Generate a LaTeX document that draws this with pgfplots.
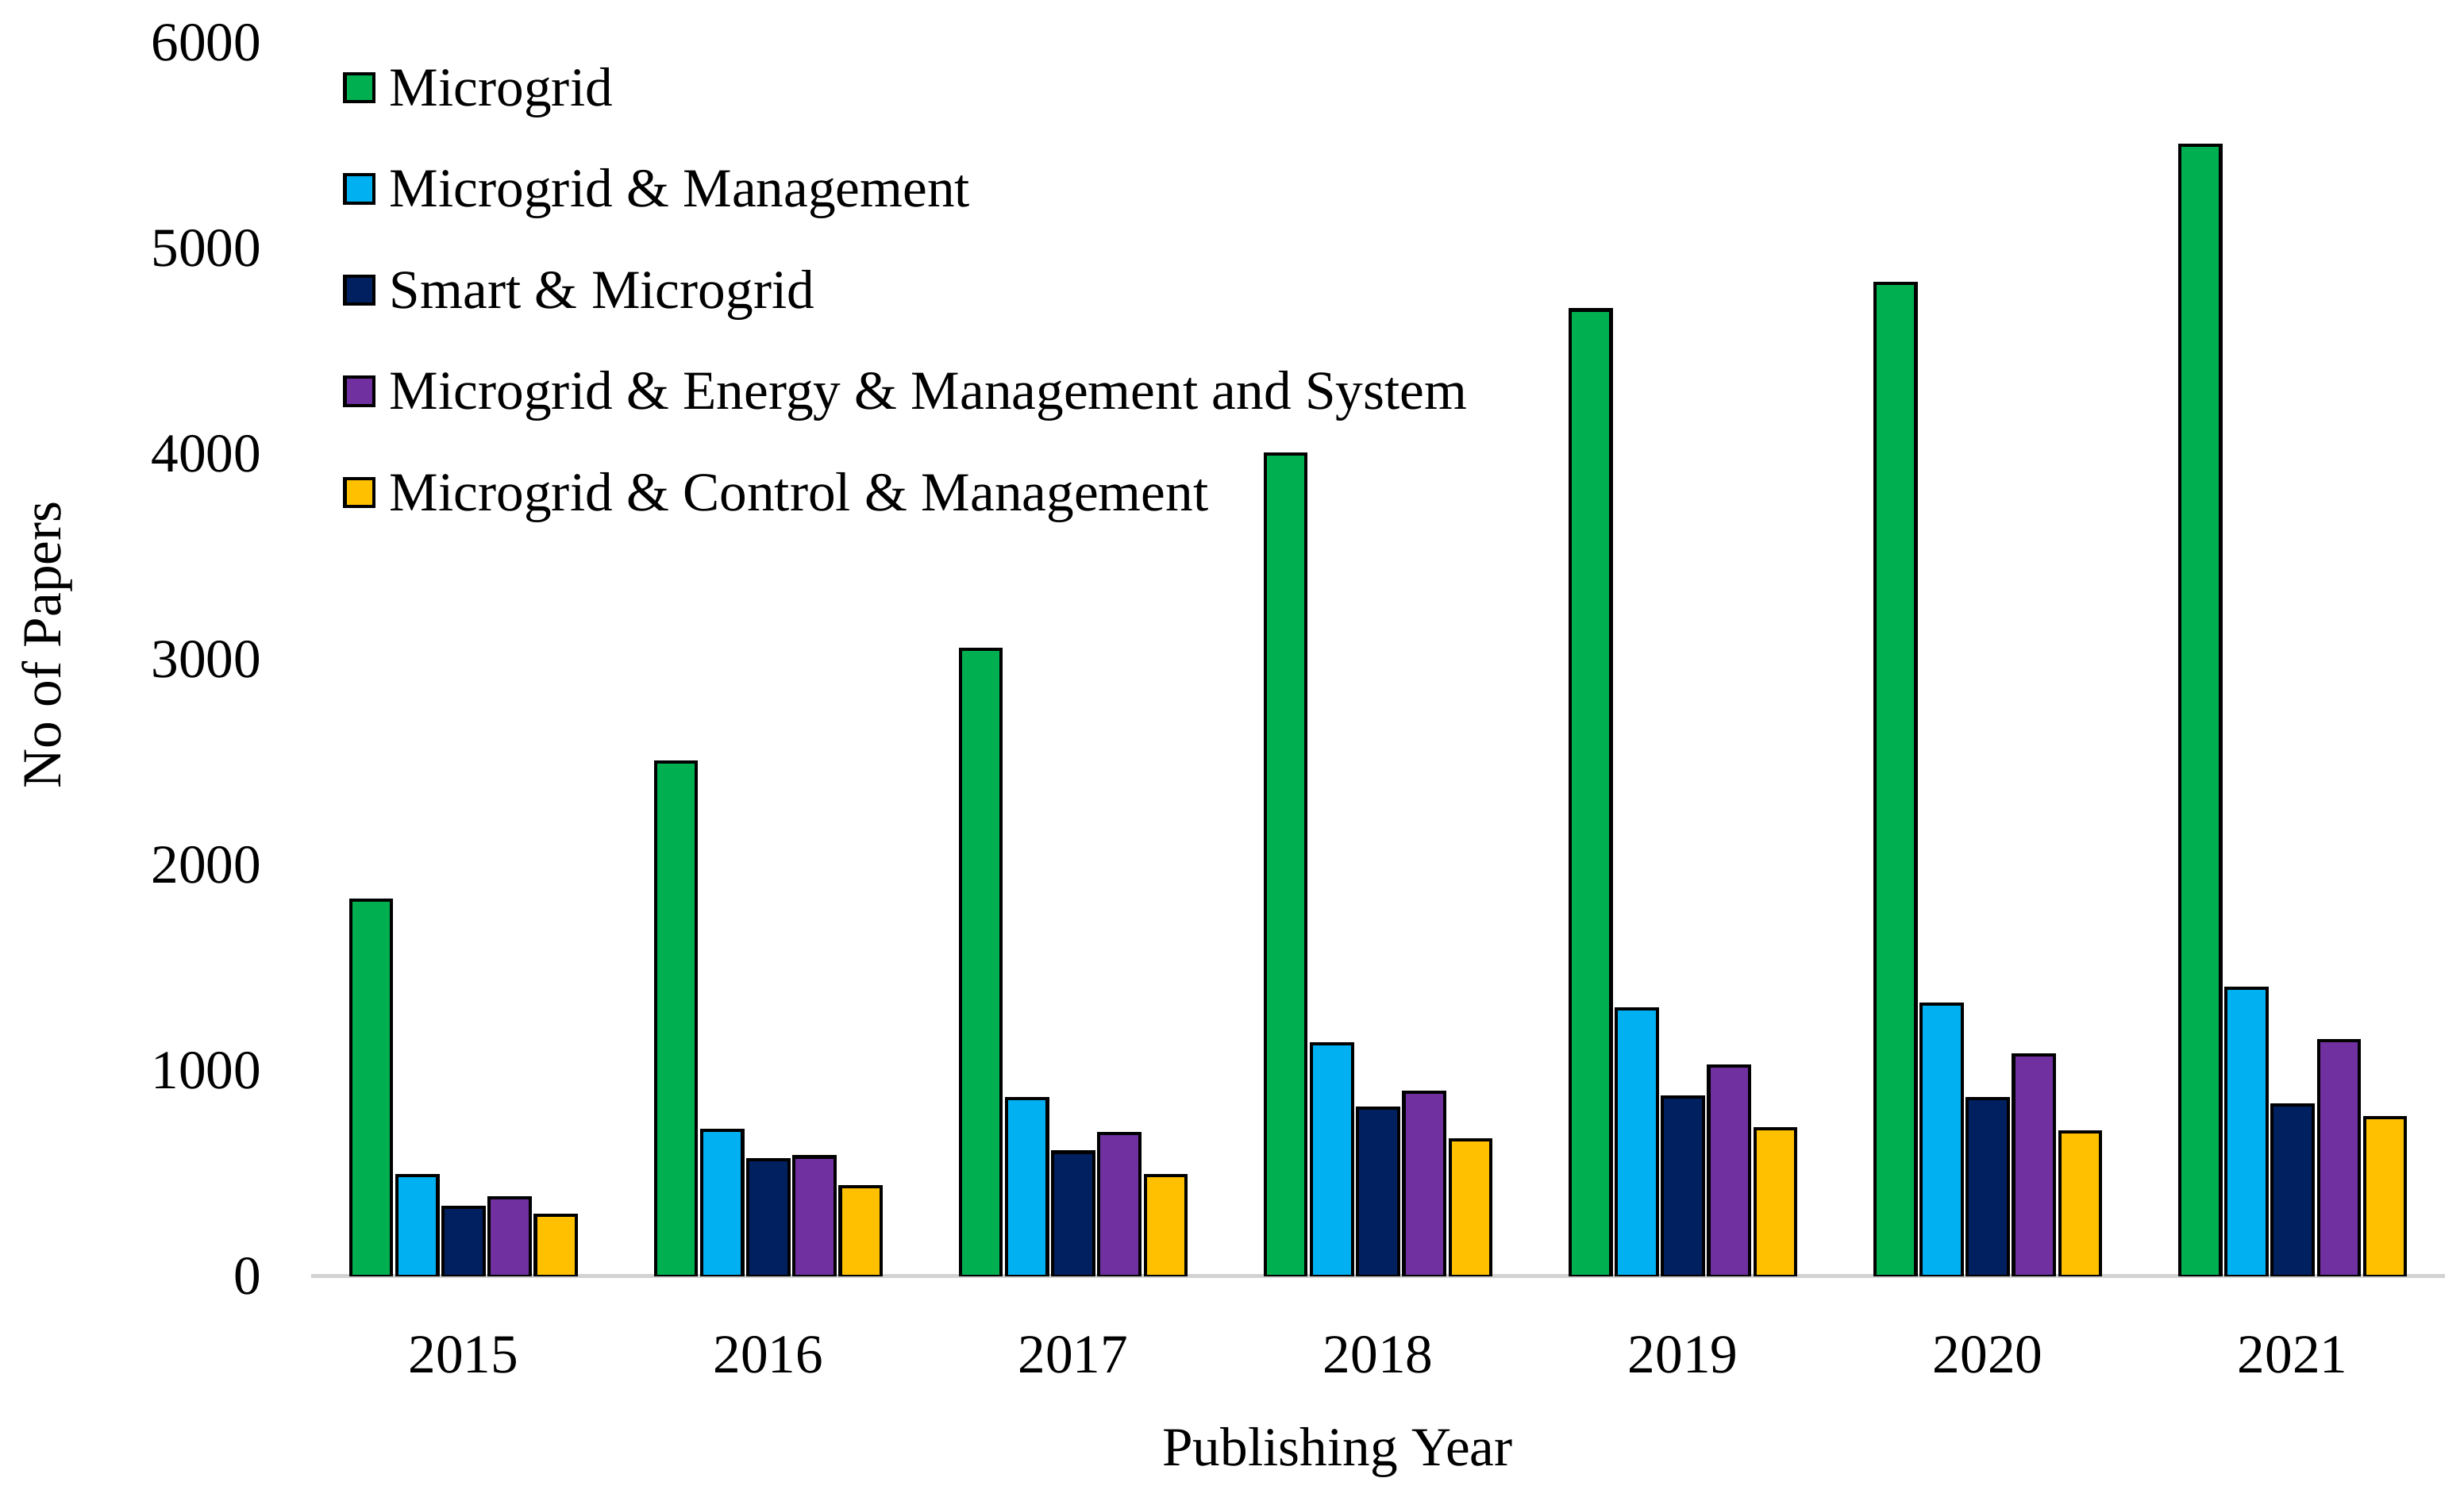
\documentclass[border=0pt]{standalone}
\usepackage{fontspec}
\setmainfont{Liberation Serif}
\usepackage{pgfplots}
\pgfplotsset{compat=1.18}

\definecolor{cgreen}{HTML}{00B050}
\definecolor{cblue}{HTML}{00B0F0}
\definecolor{cnavy}{HTML}{002060}
\definecolor{cpurple}{HTML}{7030A0}
\definecolor{cyellow}{HTML}{FFC000}

\newcommand{\chartfont}{\fontsize{12.5}{15}\selectfont}

\begin{document}
\begin{tikzpicture}[font=\chartfont]
  \useasboundingbox (0,0) rectangle (560pt,341.9pt);
  \begin{axis}[
      at={(70.7pt,51.8pt)}, anchor=south west,
      scale only axis,
      width=485pt, height=280.4pt,
      ybar=1.2pt, bar width=9.3pt,
      xmin=-0.5, xmax=6.5, ymin=0, ymax=6000,
      enlargelimits=false,
      xtick={0,1,2,3,4,5,6},
      xticklabels={2015,2016,2017,2018,2019,2020,2021},
      ytick={0,1000,2000,3000,4000,5000,6000},
      scaled y ticks=false,
      /pgf/number format/1000 sep={},
      /pgf/number format/assume math mode=true,
      axis x line=bottom, axis y line=left,
      x axis line style={-, draw=gray!35, line width=0.9pt},
      y axis line style={draw=none},
      major tick length=0pt,
      tick style={draw=none},
      every tick label/.append style={font=\chartfont},
      yticklabel style={anchor=east, xshift=-7.8pt},
      xticklabel style={yshift=-10pt},
      xlabel={Publishing Year},
      ylabel={No of Papers},
      xlabel style={at={(axis description cs:0.481,0)}, anchor=center, yshift=-40pt, font=\chartfont},
      ylabel style={at={(axis description cs:0,0.512)}, anchor=center, yshift=60pt, font=\chartfont},
      every axis plot/.append style={draw=black, line width=0.75pt},
      legend cell align=left,
      legend image code/.code={\draw[#1, draw=black, line width=0.75pt] (0pt,-1.8pt) rectangle (6.6pt,4.6pt);},
      legend style={draw=none, fill=none, font=\chartfont,
        at={(axis description cs:0.0147,0.9797)}, anchor=north west,
        inner sep=0pt, row sep=11.5pt,
        nodes={inner sep=0pt, text height=8.5pt, text depth=3pt},
        /tikz/every odd column/.append style={column sep=3.2pt}},
    ]
    \addplot[fill=cgreen] coordinates {(0,1830) (1,2500) (2,3050) (3,4000) (4,4700) (5,4830) (6,5500)};
    \addplot[fill=cblue] coordinates {(0,490) (1,710) (2,864) (3,1130) (4,1300) (5,1323) (6,1400)};
    \addplot[fill=cnavy] coordinates {(0,336) (1,566) (2,604) (3,818) (4,872) (5,864) (6,833)};
    \addplot[fill=cpurple] coordinates {(0,382) (1,581) (2,696) (3,894) (4,1024) (5,1078) (6,1147)};
    \addplot[fill=cyellow] coordinates {(0,298) (1,436) (2,489) (3,665) (4,719) (5,703) (6,772)};
    \legend{Microgrid, Microgrid \& Management, Smart \& Microgrid, Microgrid \& Energy \& Management and System, Microgrid \& Control \& Management}
  \end{axis}
\end{tikzpicture}
\end{document}
